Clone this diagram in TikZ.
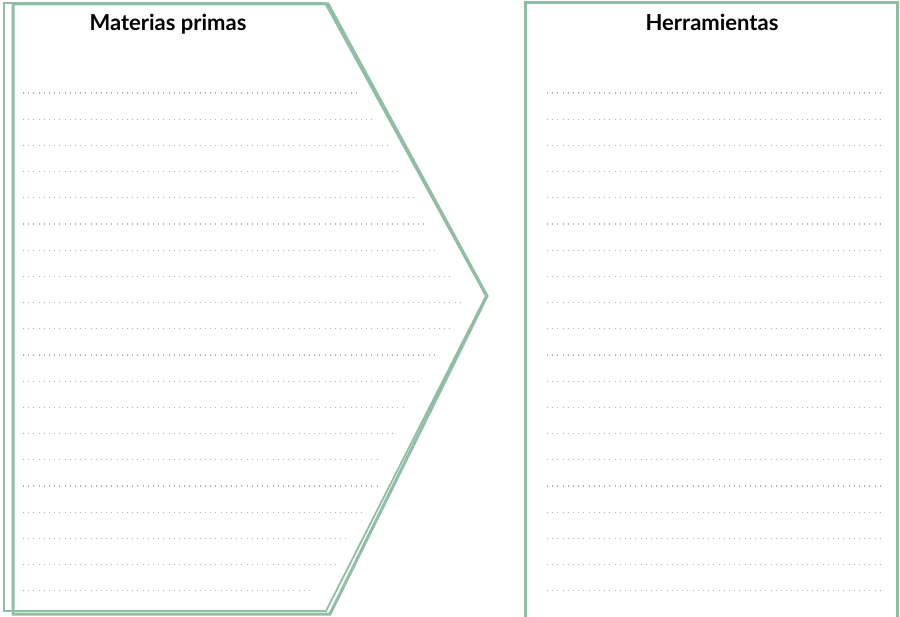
\documentclass[tikz,border=0pt]{standalone}
\usepackage{fontspec}
\setmainfont{Lato}
\definecolor{sage}{RGB}{143,190,164}
\definecolor{dotgray}{RGB}{165,178,176}
\begin{document}
\begin{tikzpicture}[x=1pt,y=-1pt,
  frame/.style={draw=sage,line join=miter},
  thinframe/.style={frame,line width=1.8pt},
  thickframe/.style={frame,line width=3pt},
  dotline/.style={draw=dotgray,line width=1.1pt,dash pattern=on 0.9pt off 4.3pt},
  title/.style={font=\bfseries\fontsize{22}{26}\selectfont,anchor=base,inner sep=0pt}]
\useasboundingbox (0,0) rectangle (900,617);
\fill[white] (0,0) rectangle (900,617);
% left arrow pentagons
\draw[thinframe] (4,3) -- (325,3) -- (486,296) -- (326,611) -- (4,611) -- cycle;
\draw[thickframe] (13,4) -- (328,4) -- (487,296) -- (330,614) -- (13,614) -- cycle;
% right panel
\draw[thickframe] (525,620) -- (525,3) -- (897,3) -- (897,620);
% dotted writing lines
\foreach \k/\e in {0/360,1/374,2/388,3/402,4/417,5/427,6/438,7/453,8/462,9/452,
                   10/438,11/422,12/407,13/393,14/380,15/377,16/364,17/349,18/340,19/313}{
  \draw[dotline] (23,93+26.2*\k) -- (\e,93+26.2*\k);
  \draw[dotline] (547,93+26.2*\k) -- (882,93+26.2*\k);
}
\node[title] (t1) at (168,31) {Materias primas};
\node[title] (t2) at (712,31) {Herramientas};
\end{tikzpicture}
\end{document}
